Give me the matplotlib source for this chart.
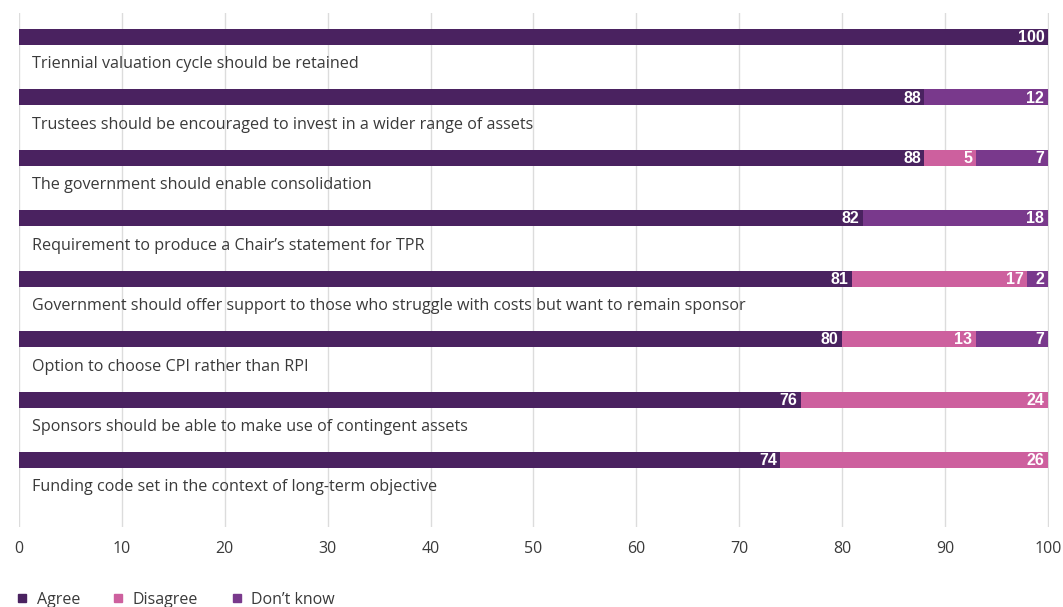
import matplotlib.pyplot as plt
from matplotlib.lines import Line2D
import numpy as np

# survey statements, top to bottom
statements = [
    'Triennial valuation cycle should be retained',
    'Trustees should be encouraged to invest in a wider range of assets',
    'The government should enable consolidation',
    "Requirement to produce a Chair\u2019s statement for TPR",
    'Government should offer support to those who struggle with costs but want to remain sponsor',
    'Option to choose CPI rather than RPI',
    'Sponsors should be able to make use of contingent assets',
    'Funding code set in the context of long-term objective',
]
agree = [100, 88, 88, 82, 81, 80, 76, 74]
disagree = [0, 0, 5, 0, 17, 13, 24, 26]
dont_know = [0, 12, 7, 18, 2, 7, 0, 0]

series_names = ['Agree', 'Disagree', 'Don\u2019t know']
colors = ['#4a2260', '#cd609e', '#79398c']
text_col = '#3a3a3a'

plt.rcParams['font.family'] = ['Open Sans', 'DejaVu Sans']

fig = plt.figure(figsize=(10.63, 6.07), dpi=100)
ax = fig.add_axes([19/1063, 1 - 527/607, 1030/1063, 514/607])

y = np.arange(len(statements))
left = np.zeros(len(statements))
for vals, name, col in zip([agree, disagree, dont_know], series_names, colors):
    vals = np.array(vals)
    ax.barh(y, vals, left=left, height=0.265, color=col, label=name, zorder=2)
    for yi, l, v in zip(y, left, vals):
        if v > 0:
            ax.text(l + v - 0.35, yi + 0.01, str(v), ha='right', va='center',
                    color='white', fontsize=11.5, fontweight='bold',
                    family=['Liberation Sans', 'DejaVu Sans'], zorder=3)
    left = left + vals

for yi, s in zip(y, statements):
    ax.text(1.26, yi + 0.455, s, ha='left', va='center', color=text_col,
            fontsize=11.6, zorder=3)

ax.set_xlim(0, 100.1)
ax.set_ylim(8.109, -0.397)
ax.set_xticks(range(0, 101, 10))
ax.set_yticks([])
ax.grid(axis='x', color='#dcdcdc', linewidth=1, zorder=0)
ax.tick_params(axis='x', length=0, pad=10, labelsize=11.5, labelcolor=text_col)
for sp in ax.spines.values():
    sp.set_visible(False)

handles = [Line2D([], [], marker='s', linestyle='none', markersize=6,
                  markerfacecolor=c, markeredgecolor=c) for c in colors]
fig.legend(handles, series_names, loc='center left',
           bbox_to_anchor=(8/1063, 1 - 600/607), ncol=3, frameon=False,
           borderpad=0.3, borderaxespad=0.2,
           handletextpad=0.5, columnspacing=2.0, handlelength=0.8,
           fontsize=11.5, labelcolor=text_col)

fig.savefig('out.png', dpi=100)
